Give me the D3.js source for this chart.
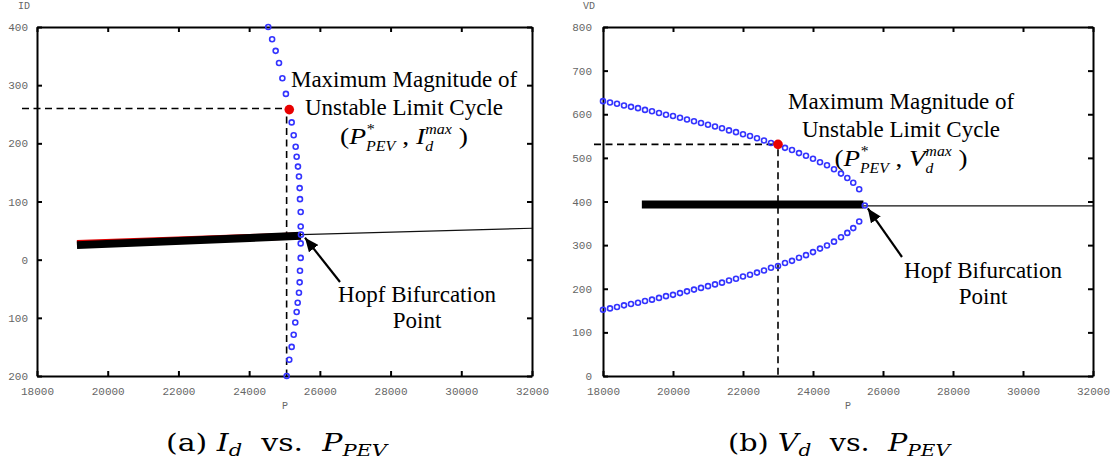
<!DOCTYPE html>
<html><head><meta charset="utf-8">
<script src="https://cdn.jsdelivr.net/npm/d3@7/dist/d3.min.js"></script>
<style>body{margin:0;background:#fff}text{white-space:pre}</style>
</head><body>
<svg id="c" width="1117" height="467"></svg>
<script>
// ---------- data ----------
const pTicks = [18000, 20000, 22000, 24000, 26000, 28000, 30000, 32000];
const idTicks = [-200, -100, 0, 100, 200, 300, 400];
const idTickLabels = ["200", "100", "0", "100", "200", "300", "400"];
const vdTicks = [0, 100, 200, 300, 400, 500, 600, 700, 800];
const vdTickLabels = ["0", "100", "200", "300", "400", "500", "600", "700", "800"];

// (a) Id vs P : unstable limit cycle (blue circles)
const idCycleP = [24540, 24650, 24750, 24845, 24940, 25040, 25135, 25203, 25260, 25316, 25344, 25381, 25409, 25429, 25438, 25458, 25458, 25466, 25458, 25458, 25438, 25429, 25409, 25373, 25344, 25305, 25260, 25203, 25135, 25062];
const idCycleI = [400, 379, 359, 338, 312, 285, 258, 236, 214, 194, 177, 160, 143, 123, 104, 82, 57, 43, 28, 3, -19, -39, -57, -74, -90, -108, -129, -150, -172, -200];
const idStableP = [19130, 25466];
const idStableI = [25, 41];
const idRedP = [19130, 25466];
const idRedI = [28, 41];
const idUnstableP = [25466, 32000];
const idUnstableI = [43, 54];
const idMax = {p: 25135, i: 258};
const idDashP = 25060, idDashI = 260;
const idHopf = {p: 25466, i: 43};

// (b) Vd vs P
const vdCycleP = [18000, 18200, 18400, 18600, 18800, 19000, 19200, 19400, 19600, 19800, 20000, 20200, 20400, 20600, 20800, 21000, 21200, 21400, 21600, 21800, 22000, 22200, 22400, 22600, 22800, 23000, 23200, 23400, 23600, 23800, 24000, 24200, 24400, 24600, 24800, 24980, 25150, 25320];
const vdUpper = [630, 627, 624, 620, 617, 614, 610, 607, 603, 599, 596, 592, 588, 584, 580, 576, 572, 568, 563, 559, 554, 550, 545, 540, 534, 530, 523, 518, 511, 505, 498, 490, 483, 474, 464, 454, 443, 428];
const vdLower = [152, 155, 158, 162, 165, 168, 172, 175, 179, 183, 186, 190, 194, 198, 202, 206, 210, 214, 219, 223, 228, 232, 237, 242, 248, 252, 259, 264, 271, 277, 284, 292, 299, 308, 318, 328, 339, 354];
const vdHopf = {p: 25480, v: 391};
const vdStableP = [19110, 25440];
const vdStableV = [393, 393];
const vdUnstableP = [25440, 32000];
const vdUnstableV = [390, 390];
const vdMax = {p: 23000, v: 531};

// ---------- drawing ----------
const svg = d3.select("#c");
svg.append("rect").attr("width", 1117).attr("height", 467).attr("fill", "#fff");
const defs = svg.append("defs");
defs.append("marker").attr("id", "ah").attr("markerUnits", "userSpaceOnUse")
  .attr("markerWidth", 16).attr("markerHeight", 12).attr("refX", 14).attr("refY", 6)
  .attr("orient", "auto")
  .append("path").attr("d", "M0,0 L14,6 L0,12 Z").attr("fill", "#000");

const SERIF = "'Liberation Serif', 'Times New Roman', serif";
const CAPF = "'DejaVu Serif', 'Liberation Serif', serif";
const MONO = "'Liberation Mono', 'Courier New', monospace";
const BLUE = "#3333ff";

function frame(g, x, y, yTicks, yLabels, leftPad) {
  const st = sel => {
    sel.select(".domain").attr("stroke", "#000").attr("stroke-width", 2);
    sel.selectAll(".tick line").attr("stroke", "#000").attr("stroke-width", 2);
    sel.selectAll(".tick text").attr("fill", "#666").attr("font-family", MONO).attr("font-size", 11);
  };
  const [x0, x1] = x.range(), [y0, y1] = y.range();
  g.append("g").attr("transform", `translate(0,${y0})`)
    .call(d3.axisBottom(x).tickValues(pTicks).tickFormat(d3.format("d")).tickSize(-5).tickSizeOuter(0).tickPadding(11)).call(st);
  g.append("g").attr("transform", `translate(0,${y1})`)
    .call(d3.axisTop(x).tickValues(pTicks).tickFormat("").tickSize(-5).tickSizeOuter(0)).call(st);
  g.append("g").attr("transform", `translate(${x0},0)`)
    .call(d3.axisLeft(y).tickValues(yTicks).tickFormat((d, i) => yLabels[i]).tickSize(-5).tickSizeOuter(0).tickPadding(leftPad)).call(st);
  g.append("g").attr("transform", `translate(${x1},0)`)
    .call(d3.axisRight(y).tickValues(yTicks).tickFormat("").tickSize(-5).tickSizeOuter(0)).call(st);
  g.selectAll(".domain").attr("fill", "none");
}

// rich text line (italic pieces, stacked sub/sup)
function rich(g, pieces, x0, baseline, size, anchor, targetW, family) {
  const grp = g.append("g").attr("font-family", family || SERIF).attr("fill", "#000");
  let x = 0;
  pieces.forEach(p => {
    if (p.sub !== undefined || p.sup !== undefined) {
      let w = 0;
      const s = size * (p.scale || 0.58);
      if (p.sup) {
        const t = grp.append("text").attr("x", x).attr("y", baseline - size * 0.42).attr("font-size", s)
          .attr("font-style", "italic").text(p.sup);
        w = Math.max(w, t.node().getComputedTextLength());
      }
      if (p.sub) {
        const t = grp.append("text").attr("x", x).attr("y", baseline + size * (p.subDy || 0.28)).attr("font-size", s)
          .attr("font-style", "italic").text(p.sub);
        w = Math.max(w, t.node().getComputedTextLength());
      }
      x += w;
    } else {
      const t = grp.append("text").attr("x", x).attr("y", baseline).attr("font-size", size)
        .attr("font-style", p.it ? "italic" : "normal").text(p.t);
      x += t.node().getComputedTextLength();
    }
  });
  const k = targetW ? targetW / x : 1;
  const tx = anchor === "middle" ? x0 - x * k / 2 : x0;
  grp.attr("transform", `translate(${tx},0) scale(${k},1)`);
  return grp;
}

function dashed(g, x1, y1, x2, y2) {
  g.append("line").attr("x1", x1).attr("y1", y1).attr("x2", x2).attr("y2", y2)
    .attr("stroke", "#000").attr("stroke-width", 1.6).attr("stroke-dasharray", "7,4.5");
}

function circles(g, x, y, pts) {
  g.selectAll(null).data(pts).join("circle")
    .attr("cx", d => x(d[0])).attr("cy", d => y(d[1])).attr("r", 2.5)
    .attr("fill", "none").attr("stroke", BLUE).attr("stroke-width", 1.6);
}

// ===== Panel (a) =====
{
  const g = svg.append("g");
  const x = d3.scaleLinear().domain([18000, 32000]).range([37, 532]);
  const y = d3.scaleLinear().domain([-200, 400]).range([376, 27]);
  const line = d3.line().x(d => x(d[0])).y(d => y(d[1]));

  dashed(g, 22, y(idDashI), x(idMax.p) - 3, y(idDashI));
  dashed(g, x(idDashP), y(idMax.i) + 7, x(idDashP), y(-200));

  g.append("path").datum(d3.zip(idRedP, idRedI)).attr("d", line)
    .attr("stroke", "#e00000").attr("stroke-width", 7).attr("fill", "none");
  g.append("path").datum(d3.zip(idStableP, idStableI)).attr("d", line)
    .attr("stroke", "#000").attr("stroke-width", 8).attr("fill", "none");
  g.append("path").datum(d3.zip(idUnstableP, idUnstableI)).attr("d", line)
    .attr("stroke", "#111").attr("stroke-width", 1.2).attr("fill", "none");

  frame(g, x, y, idTicks, idTickLabels, 9);

  circles(g, x, y, d3.zip(idCycleP, idCycleI));
  g.append("circle").attr("cx", x(idMax.p)).attr("cy", y(idMax.i)).attr("r", 4.8).attr("fill", "#e80000");

  g.append("text").attr("x", 24).attr("y", 9).attr("text-anchor", "middle")
    .attr("font-family", MONO).attr("font-size", 10).attr("fill", "#666").text("ID");
  g.append("text").attr("x", 285).attr("y", 409).attr("text-anchor", "middle")
    .attr("font-family", MONO).attr("font-size", 10).attr("fill", "#666").text("P");

  rich(g, [{t: "Maximum Magnitude of"}], 404, 87, 23, "middle");
  rich(g, [{t: "Unstable Limit Cycle"}], 404, 115, 23, "middle");
  rich(g, [{t: "("}, {t: "P", it: true}, {sup: "*", sub: "PEV"}, {t: " , "}, {t: "I", it: true}, {sup: "max", sub: "d"}, {t: " )"}], 404, 144, 24, "middle", 128);
  rich(g, [{t: "Hopf Bifurcation"}], 417, 302, 23, "middle");
  rich(g, [{t: "Point"}], 417, 328, 23, "middle");
  g.append("line").attr("x1", 340).attr("y1", 282).attr("x2", x(idHopf.p) + 4).attr("y2", y(idHopf.i) + 3)
    .attr("stroke", "#000").attr("stroke-width", 2.2).attr("marker-end", "url(#ah)");

  rich(svg, [{t: "(a) "}, {t: "I", it: true}, {sub: "d", scale: 0.7, subDy: 0.2}, {t: "  vs.  "}, {t: "P", it: true}, {sub: "PEV", scale: 0.7, subDy: 0.2}], 166, 451, 24, "start", 221, CAPF);
}

// ===== Panel (b) =====
{
  const g = svg.append("g");
  const x = d3.scaleLinear().domain([18000, 32000]).range([603, 1093]);
  const y = d3.scaleLinear().domain([0, 800]).range([376, 27]);
  const line = d3.line().x(d => x(d[0])).y(d => y(d[1]));

  dashed(g, 594, y(vdMax.v), x(vdMax.p) - 3, y(vdMax.v));
  dashed(g, x(vdMax.p), y(vdMax.v) + 5, x(vdMax.p), y(0));

  g.append("path").datum(d3.zip(vdStableP, vdStableV)).attr("d", line)
    .attr("stroke", "#000").attr("stroke-width", 8).attr("fill", "none");
  g.append("path").datum(d3.zip(vdUnstableP, vdUnstableV)).attr("d", line)
    .attr("stroke", "#111").attr("stroke-width", 1.2).attr("fill", "none");

  frame(g, x, y, vdTicks, vdTickLabels, 11);

  const pts = d3.zip(vdCycleP, vdUpper).concat([[vdHopf.p, vdHopf.v]]).concat(d3.zip(vdCycleP, vdLower));
  circles(g, x, y, pts);
  g.append("circle").attr("cx", x(vdMax.p)).attr("cy", y(vdMax.v)).attr("r", 4.8).attr("fill", "#e80000");

  g.append("text").attr("x", 589).attr("y", 9).attr("text-anchor", "middle")
    .attr("font-family", MONO).attr("font-size", 10).attr("fill", "#666").text("VD");
  g.append("text").attr("x", 848).attr("y", 409).attr("text-anchor", "middle")
    .attr("font-family", MONO).attr("font-size", 10).attr("fill", "#666").text("P");

  rich(g, [{t: "Maximum Magnitude of"}], 901, 109, 23, "middle");
  rich(g, [{t: "Unstable Limit Cycle"}], 901, 137, 23, "middle");
  rich(g, [{t: "("}, {t: "P", it: true}, {sup: "*", sub: "PEV"}, {t: " , "}, {t: "V", it: true}, {sup: "max", sub: "d"}, {t: " )"}], 901, 166, 24, "middle", 133);
  rich(g, [{t: "Hopf Bifurcation"}], 983, 278, 23, "middle");
  rich(g, [{t: "Point"}], 983, 304, 23, "middle");
  g.append("line").attr("x1", 902).attr("y1", 257).attr("x2", x(vdHopf.p) + 3).attr("y2", y(vdHopf.v) + 3)
    .attr("stroke", "#000").attr("stroke-width", 2.2).attr("marker-end", "url(#ah)");

  rich(svg, [{t: "(b) "}, {t: "V", it: true}, {sub: "d", scale: 0.7, subDy: 0.2}, {t: "  vs.  "}, {t: "P", it: true}, {sub: "PEV", scale: 0.7, subDy: 0.2}], 728, 451, 24, "start", 222, CAPF);
}
</script>
</body></html>
